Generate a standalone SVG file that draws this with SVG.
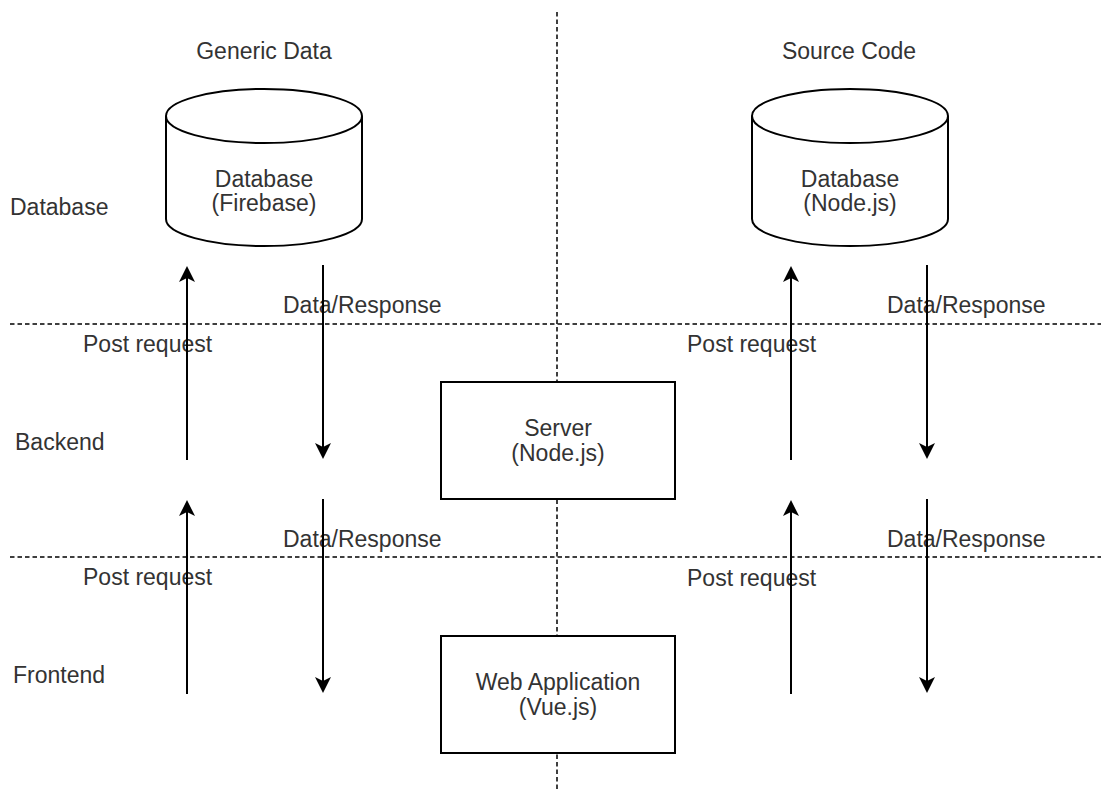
<svg xmlns="http://www.w3.org/2000/svg" width="1101" height="791" viewBox="0 0 1101 791">
<style>
text{font-family:"Liberation Sans",Arial,sans-serif;font-size:23px;fill:#333}
.c{text-anchor:middle}
.sep{stroke:#000;stroke-width:1.5;stroke-dasharray:4.5 3;fill:none}
.shape{fill:#fff;stroke:#000;stroke-width:2}
.arr{stroke:#000;stroke-width:2;fill:none;marker-end:url(#head)}
</style>
<defs>
<marker id="head" viewBox="0 0 16 16" refX="8" refY="8" markerWidth="16" markerHeight="16" markerUnits="userSpaceOnUse" orient="auto">
<path d="M0,0 L16,8 L0,16 L4,8 Z" fill="#000"/>
</marker>
</defs>
<rect width="1101" height="791" fill="#fff"/>
<g id="separators">
<line class="sep" x1="557" y1="12" x2="557" y2="791"/>
<line class="sep" x1="10" y1="324" x2="1101" y2="324"/>
<line class="sep" x1="10" y1="557" x2="1101" y2="557"/>
</g>
<g id="labels">
<text class="c" x="264" y="59">Generic Data</text>
<text class="c" x="849" y="59">Source Code</text>
<text x="10" y="215">Database</text>
<text x="15" y="450">Backend</text>
<text x="13" y="683">Frontend</text>
<text x="283" y="313">Data/Response</text>
<text x="83" y="352">Post request</text>
<text x="887" y="313">Data/Response</text>
<text x="687" y="352">Post request</text>
<text x="283" y="547">Data/Response</text>
<text x="83" y="585">Post request</text>
<text x="887" y="547">Data/Response</text>
<text x="687" y="586">Post request</text>
</g>
<g id="db-firebase">
<path class="shape" d="M166,116 L166,219 A98,27 0 0 0 362,219 L362,116 A98,27 0 0 0 166,116 Z"/>
<path class="shape" fill="none" d="M166,116 A98,27 0 0 0 362,116"/>
<text class="c" x="264" y="187">Database</text>
<text class="c" x="264" y="211">(Firebase)</text>
</g>
<g id="db-nodejs">
<path class="shape" d="M752,116 L752,219 A98,27 0 0 0 948,219 L948,116 A98,27 0 0 0 752,116 Z"/>
<path class="shape" fill="none" d="M752,116 A98,27 0 0 0 948,116"/>
<text class="c" x="850" y="187">Database</text>
<text class="c" x="850" y="211">(Node.js)</text>
</g>
<g id="server">
<rect class="shape" x="441" y="382" width="234" height="117"/>
<text class="c" x="558" y="436">Server</text>
<text class="c" x="558" y="461">(Node.js)</text>
</g>
<g id="webapp">
<rect class="shape" x="441" y="636" width="234" height="117"/>
<text class="c" x="558" y="690">Web Application</text>
<text class="c" x="558" y="715">(Vue.js)</text>
</g>
<g id="connectors">
<line class="arr" x1="187" y1="460" x2="187" y2="274"/>
<line class="arr" x1="323" y1="265" x2="323" y2="451"/>
<line class="arr" x1="187" y1="694" x2="187" y2="508"/>
<line class="arr" x1="323" y1="499" x2="323" y2="685"/>
<line class="arr" x1="791" y1="460" x2="791" y2="274"/>
<line class="arr" x1="927" y1="265" x2="927" y2="451"/>
<line class="arr" x1="791" y1="694" x2="791" y2="508"/>
<line class="arr" x1="927" y1="499" x2="927" y2="685"/>
</g>
</svg>
